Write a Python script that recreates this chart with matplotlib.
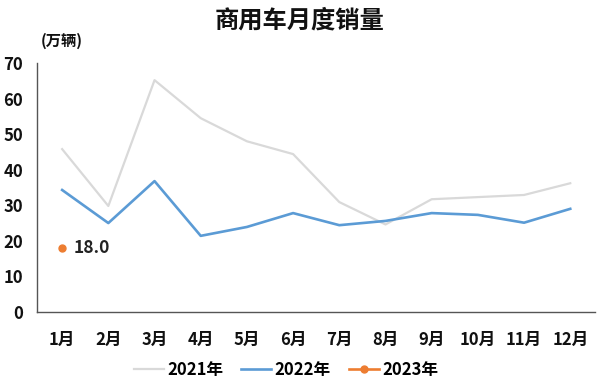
import numpy as np
import matplotlib
matplotlib.use("Agg")
import matplotlib.pyplot as plt

plt.rcParams['font.family'] = ['Noto Sans CJK SC', 'DejaVu Sans']

months = ["1月", "2月", "3月", "4月", "5月", "6月", "7月", "8月", "9月", "10月", "11月", "12月"]
sales_2021 = [45.8, 29.8, 65.2, 54.5, 48.0, 44.4, 30.9, 24.6, 31.7, 32.3, 32.9, 36.2]
sales_2022 = [34.3, 25.0, 36.8, 21.4, 23.9, 27.8, 24.4, 25.6, 27.8, 27.3, 25.1, 29.0]
sales_2023 = [18.0]

fig = plt.figure(figsize=(6, 3.87), dpi=100)
ax = fig.add_axes([0.062, 0.194, 0.93, 0.643])

x = np.arange(len(months))
ax.plot(x, sales_2021, color='#d9d9d9', lw=1.6, label='2021年')
ax.plot(x, sales_2022, color='#5b9bd5', lw=1.9, label='2022年')
ax.plot(x[:len(sales_2023)], sales_2023, color='#ed7d31', lw=1.9,
        marker='o', ms=5, label='2023年')
ax.annotate(f"{sales_2023[0]:.1f}", (0, sales_2023[0]), xytext=(8, 0),
            textcoords='offset points', va='center', ha='left',
            fontsize=12.5, fontweight='bold', color='#222222')

ax.set_xlim(-0.54, 11.54)
ax.set_ylim(0, 70)
ax.set_yticks(np.arange(0, 71, 10))
ax.set_xticks(x)
ax.set_xticklabels(months)
ax.tick_params(length=0, labelsize=12)
ax.tick_params(axis='y', pad=10)
ax.tick_params(axis='x', pad=14)
for lbl in ax.get_xticklabels() + ax.get_yticklabels():
    lbl.set_fontweight('bold')
    lbl.set_color('#111111')

for s in ['top', 'right']:
    ax.spines[s].set_visible(False)
for s in ['left', 'bottom']:
    ax.spines[s].set_color('#555555')
    ax.spines[s].set_linewidth(1.0)

fig.text(0.5, 0.947, "商用车月度销量", ha='center', va='center',
         fontsize=17.5, fontweight='bold', color='#111111')
fig.text(0.068, 0.895, "(万辆)", ha='left', va='center',
         fontsize=11, fontweight='bold', color='#111111')

fig.legend(loc='center', bbox_to_anchor=(0.477, 0.045), ncol=3, frameon=False,
           prop={'size': 12, 'weight': 'bold'}, handlelength=1.8,
           columnspacing=1.1, handletextpad=0.2)

fig.savefig("out.png", dpi=100)
